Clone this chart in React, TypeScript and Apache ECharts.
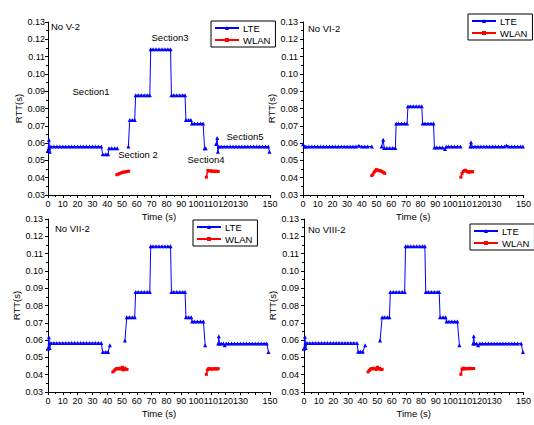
import React, { useEffect, useRef } from "react";
import * as echarts from "echarts";

type Pt = [number, number | null];

const FONT = "'Liberation Sans', Arial, sans-serif";
const LTE_COLOR = "#0000ff";
const WLAN_COLOR = "#ff0000";

const panelTitles = ["No V-2", "No VI-2", "No VII-2", "No VIII-2"];
const seriesNames = ["LTE", "WLAN"];
const xTickMax = 150;
const yTickMin = 0.03;
const yTickMax = 0.13;

// RTT samples, [time (s), RTT (s)]; null breaks the line
const lteV2: Pt[] = [
  [0, 0.056], [0.6, 0.062], [1.2, 0.055], [2, 0.058], [4, 0.058], [6, 0.058], [8, 0.058], [10, 0.058],
  [12, 0.058], [14, 0.058], [16, 0.058], [18, 0.058], [20, 0.058], [22, 0.058], [24, 0.058], [26, 0.058],
  [28, 0.058], [30, 0.058], [32, 0.058], [34, 0.058], [36, 0.058],
  [37, 0.0535], [39, 0.0535], [40.6, 0.0535], [41.2, 0.057], [43, 0.057], [45, 0.057], [46.8, 0.057], [47.5, null],
  [54.3, 0.058], [55.2, 0.0733], [57, 0.0733], [58.6, 0.0733],
  [59.2, 0.0877], [61, 0.0877], [63, 0.0877], [65, 0.0877], [67, 0.0877], [68.8, 0.0877],
  [69.4, 0.1142], [71, 0.1142], [73, 0.1142], [75, 0.1142], [77, 0.1142], [79, 0.1142], [81, 0.1142], [82.8, 0.1142],
  [83.4, 0.0877], [85, 0.0877], [87, 0.0877], [89, 0.0877], [91, 0.0877], [92.6, 0.0877],
  [93.2, 0.0733], [95, 0.0733], [96.6, 0.0733],
  [97.2, 0.0713], [99, 0.0713], [101, 0.0713], [103, 0.0713], [104.8, 0.0713], [105.8, 0.057], [106.6, 0.057], [107.5, null],
  [113.6, 0.0595], [114.3, 0.063], [114.8, 0.055], [115.4, 0.058], [117, 0.058], [119, 0.058], [121, 0.058],
  [123, 0.058], [125, 0.058], [127, 0.058], [129, 0.058], [131, 0.058], [133, 0.058], [135, 0.058], [137, 0.058],
  [139, 0.058], [141, 0.058], [143, 0.058], [145, 0.058], [147, 0.058], [148.8, 0.058], [149.6, 0.055],
];

const wlanV2: Pt[] = [
  [46.5, 0.0417], [47.5, 0.0421], [48.5, 0.0425], [49.5, 0.0428], [50.5, 0.0431], [51.5, 0.0433],
  [52.5, 0.0434], [53.5, 0.0436], [54.5, 0.0438], [56, null],
  [107, 0.0403], [108, 0.0442], [109, 0.0438], [110, 0.0441], [111, 0.0436], [112, 0.0439],
  [113, 0.0435], [114, 0.0438], [115, 0.0436],
];

const lteV6: Pt[] = [
  [0, 0.0594], [1, 0.058], [2, 0.058], [4, 0.058], [6, 0.058], [8, 0.058], [10, 0.058], [12, 0.058],
  [14, 0.058], [16, 0.058], [18, 0.058], [20, 0.058], [22, 0.058], [24, 0.058], [26, 0.058], [28, 0.058],
  [30, 0.058], [32, 0.058], [34, 0.058], [36, 0.058], [38, 0.0585], [40, 0.058], [42, 0.058], [44, 0.058],
  [46.8, 0.058], [48, null],
  [53.5, 0.058], [54.6, 0.062], [55.2, 0.0571], [57, 0.0571], [59, 0.0571], [61, 0.0571], [62.8, 0.0571],
  [63.4, 0.0713], [65, 0.0713], [67, 0.0713], [69, 0.0713], [70.8, 0.0713],
  [71.4, 0.0813], [73, 0.0813], [75, 0.0813], [77, 0.0813], [79, 0.0813], [80.8, 0.0813],
  [81.4, 0.0713], [83, 0.0713], [85, 0.0713], [87, 0.0713], [88.8, 0.0713],
  [89.4, 0.0575], [91, 0.0575], [93, 0.0575], [95, 0.0575], [96.6, 0.0566],
  [97.4, 0.058], [99, 0.058], [101, 0.058], [103, 0.058], [105, 0.058], [107.2, 0.058], [108, null],
  [113.8, 0.058], [114.3, 0.0605], [115, 0.058], [117, 0.058], [119, 0.058], [121, 0.058], [123, 0.058],
  [125, 0.058], [127, 0.058], [129, 0.058], [131, 0.058], [133, 0.058], [135, 0.058], [137, 0.058],
  [138.5, 0.0586], [140, 0.058], [142, 0.058], [144, 0.058], [146, 0.058], [148, 0.058], [149.6, 0.058],
];

const wlanV6: Pt[] = [
  [46.8, 0.0412], [47.6, 0.042], [48.4, 0.0432], [49.2, 0.044], [50, 0.0447], [50.8, 0.0444],
  [51.6, 0.044], [52.4, 0.0442], [53.2, 0.0437], [54, 0.0434], [54.8, 0.043], [55.6, 0.0425], [57, null],
  [107.4, 0.0403], [108.2, 0.0425], [109, 0.0436], [109.8, 0.0441], [110.6, 0.0443], [111.4, 0.0437],
  [112.2, 0.0433], [113, 0.0431], [113.8, 0.0436], [114.6, 0.0434], [115.4, 0.0435],
];

const lteV7: Pt[] = [
  [0, 0.055], [0.6, 0.0616], [1.2, 0.0555], [2, 0.0583], [4, 0.0583], [6, 0.0583], [8, 0.0583], [10, 0.0583],
  [12, 0.0583], [14, 0.0583], [16, 0.0583], [18, 0.0583], [20, 0.0583], [22, 0.0583], [24, 0.0583],
  [26, 0.0583], [28, 0.0583], [30, 0.0583], [32, 0.0583], [34, 0.0583], [36, 0.0583],
  [37, 0.0531], [39, 0.0531], [40.6, 0.0531], [41.8, 0.057], [43, null],
  [52, 0.0597], [53.2, 0.0732], [55, 0.0732], [57, 0.0732], [58.6, 0.0732],
  [59.2, 0.0878], [61, 0.0878], [63, 0.0878], [65, 0.0878], [67, 0.0878], [68.8, 0.0878],
  [69.4, 0.1142], [71, 0.1142], [73, 0.1142], [75, 0.1142], [77, 0.1142], [79, 0.1142], [81, 0.1142], [82.8, 0.1142],
  [83.4, 0.0878], [85, 0.0878], [87, 0.0878], [89, 0.0878], [91, 0.0878], [92.6, 0.0878],
  [93.2, 0.0732], [95, 0.0732], [96.8, 0.0732],
  [97.4, 0.0708], [99, 0.0708], [101, 0.0708], [103, 0.0708], [105, 0.0708], [106.2, 0.057], [107, null],
  [115, 0.058], [115.4, 0.0622], [115.8, 0.058], [117, 0.058], [118.6, 0.058], [119.4, 0.057], [120.4, 0.058],
  [122, 0.058], [124, 0.058], [126, 0.058], [128, 0.058], [130, 0.058], [132, 0.058], [134, 0.058],
  [136, 0.058], [138, 0.058], [140, 0.058], [142, 0.058], [144, 0.058], [146, 0.058], [147.8, 0.058], [149, 0.0531],
];

const wlanV7: Pt[] = [
  [43.8, 0.0416], [44.6, 0.0422], [45.4, 0.043], [46.2, 0.0435], [47, 0.0436], [47.8, 0.0433],
  [48.6, 0.0437], [49.4, 0.0432], [50.2, 0.0443], [51, 0.0428], [51.8, 0.0438], [52.6, 0.0431],
  [53.4, 0.0431], [55, null],
  [107, 0.0402], [107.8, 0.0428], [108.6, 0.0436], [109.4, 0.0434], [110.2, 0.0431], [111, 0.0434],
  [111.8, 0.0433], [112.6, 0.0435], [113.4, 0.0434], [114.2, 0.0433], [115, 0.0435],
];

const lteV8: Pt[] = [
  [0, 0.055], [0.6, 0.062], [1.2, 0.0555], [2, 0.0583], [4, 0.0583], [6, 0.0583], [8, 0.0583], [10, 0.0583],
  [12, 0.0583], [14, 0.0583], [16, 0.0583], [18, 0.0583], [20, 0.0583], [22, 0.0583], [24, 0.0583],
  [26, 0.0583], [28, 0.0583], [30, 0.0583], [32, 0.0583], [34, 0.0583], [36.2, 0.0583],
  [37, 0.0533], [38.6, 0.0533], [40.2, 0.0533], [41.8, 0.057], [43, null],
  [52, 0.0597], [53.4, 0.0732], [55, 0.0732], [57, 0.0732], [58.4, 0.0732],
  [59, 0.0878], [61, 0.0878], [63, 0.0878], [65, 0.0878], [67, 0.0878], [68.8, 0.0878],
  [69.4, 0.1142], [71, 0.1142], [73, 0.1142], [75, 0.1142], [77, 0.1142], [79, 0.1142], [81, 0.1142], [82.6, 0.1142],
  [83.2, 0.0878], [85, 0.0878], [87, 0.0878], [89, 0.0878], [91, 0.0878], [92.4, 0.0878],
  [93, 0.0732], [95, 0.0732], [96.8, 0.0732],
  [97.4, 0.0708], [99, 0.0708], [101, 0.0708], [103, 0.0708], [104.8, 0.0708], [106.2, 0.057], [107, null],
  [115.6, 0.058], [116, 0.0622], [116.4, 0.058], [118, 0.058], [119, 0.057], [120.2, 0.058],
  [122, 0.058], [124, 0.058], [126, 0.058], [128, 0.058], [130, 0.058], [132, 0.058], [134, 0.058],
  [136, 0.058], [138, 0.058], [140, 0.058], [142, 0.058], [144, 0.058], [146, 0.058], [148.4, 0.058], [149.6, 0.0531],
];

const wlanV8: Pt[] = [
  [43.8, 0.0416], [44.6, 0.0424], [45.4, 0.0431], [46.2, 0.0436], [47, 0.0434], [47.8, 0.0437],
  [48.6, 0.0433], [49.4, 0.0431], [50.2, 0.0443], [51, 0.0433], [51.8, 0.0437], [52.6, 0.043],
  [53.4, 0.0431], [55, null],
  [107.2, 0.0402], [108, 0.0432], [108.8, 0.0438], [109.6, 0.0433], [110.4, 0.0436], [111.2, 0.0434],
  [112, 0.0436], [112.8, 0.0434], [113.6, 0.0437], [114.4, 0.0435], [115.2, 0.0436], [116, 0.0436],
];

const lteData = [lteV2, lteV6, lteV7, lteV8];
const wlanData = [wlanV2, wlanV6, wlanV7, wlanV8];

// Section labels of the first panel
const sectionLabels = ["Section1", "Section3", "Section 2", "Section4", "Section5"];

// Panel layout (pixels)
const grids = [
  { left: 48, top: 22, width: 222, height: 173 },
  { left: 303, top: 22, width: 221, height: 173 },
  { left: 48, top: 219, width: 222, height: 173 },
  { left: 304, top: 219, width: 220, height: 173 },
];
const legendPos = [
  { left: 211, top: 21 },
  { left: 468, top: 14 },
  { left: 193, top: 220 },
  { left: 470, top: 224 },
];
const yNameGap = [16, 27, 22, 27];
const yLabelMargin = [3, 5, 5, 5];
const titlePos = [
  { x: 51, y: 26 },
  { x: 308, y: 28 },
  { x: 55, y: 228 },
  { x: 308, y: 229 },
];
const sectionPos = [
  { x: 91, y: 91 },
  { x: 170, y: 37 },
  { x: 138, y: 154 },
  { x: 206, y: 159 },
  { x: 245, y: 136 },
];

export default function App() {
  const ref = useRef<HTMLDivElement>(null);

  useEffect(() => {
    document.body.style.margin = "0";
    if (!ref.current) return;
    const chart = echarts.init(ref.current, undefined, { renderer: "svg" });

    const axisCommon = {
      axisLine: { show: true, lineStyle: { color: "#000", width: 1 } },
      splitLine: { show: false },
      axisTick: { show: true, length: 3, lineStyle: { color: "#000" } },
      minorTick: { show: true, splitNumber: 2, length: 2, lineStyle: { color: "#000" } },
      nameTextStyle: { fontFamily: FONT, fontSize: 9.5, color: "#000" },
    };

    const xAxis = grids.map((_, i) => ({
      ...axisCommon,
      type: "value",
      gridIndex: i,
      min: 0,
      max: xTickMax,
      interval: 10,
      name: "Time (s)",
      nameLocation: "middle",
      nameGap: 16,
      axisLabel: { fontFamily: FONT, fontSize: 9, color: "#000", margin: 4, showMaxLabel: true },
    }));

    const yAxis = grids.map((_, i) => ({
      ...axisCommon,
      type: "value",
      gridIndex: i,
      min: yTickMin,
      max: yTickMax,
      interval: 0.01,
      name: "RTT(s)",
      nameLocation: "middle",
      nameGap: yNameGap[i],
      axisLabel: {
        fontFamily: FONT,
        fontSize: 9,
        color: "#000",
        margin: yLabelMargin[i],
        formatter: (v: number) => v.toFixed(2),
      },
    }));

    const series: any[] = [];
    grids.forEach((_, i) => {
      series.push({
        name: seriesNames[0],
        type: "line",
        xAxisIndex: i,
        yAxisIndex: i,
        data: lteData[i],
        symbol: "triangle",
        symbolSize: 4,
        lineStyle: { color: LTE_COLOR, width: 1 },
        itemStyle: { color: LTE_COLOR },
        connectNulls: false,
        silent: true,
        z: 3,
      });
      series.push({
        name: seriesNames[1],
        type: "line",
        xAxisIndex: i,
        yAxisIndex: i,
        data: wlanData[i],
        symbol: "rect",
        symbolSize: 3,
        lineStyle: { color: WLAN_COLOR, width: 1.5 },
        itemStyle: { color: WLAN_COLOR },
        connectNulls: false,
        silent: true,
        z: 3,
      });
    });

    const legend = legendPos.map((p) => ({
      data: seriesNames,
      orient: "vertical",
      left: p.left,
      top: p.top,
      borderColor: "#000",
      borderWidth: 1,
      backgroundColor: "#fff",
      padding: [2, 5, 2, 3],
      itemGap: 2,
      itemWidth: 24,
      itemHeight: 5,
      selectedMode: false,
      textStyle: { fontFamily: FONT, fontSize: 9.5, color: "#000", padding: [0, 0, 0, -1] },
    }));

    const textEl = (text: string, x: number, y: number, align: string) => ({
      type: "text",
      x,
      y,
      silent: true,
      style: {
        text,
        fill: "#000",
        font: `9.5px ${FONT}`,
        align,
        verticalAlign: "middle",
        textAlign: align,
        textVerticalAlign: "middle",
      },
    });

    const graphic = [
      ...panelTitles.map((t, i) => textEl(t, titlePos[i].x, titlePos[i].y, "left")),
      ...sectionLabels.map((t, i) => textEl(t, sectionPos[i].x, sectionPos[i].y, "center")),
    ];

    chart.setOption({
      animation: false,
      backgroundColor: "#fff",
      textStyle: { fontFamily: FONT },
      grid: grids.map((g) => ({ ...g, containLabel: false })),
      xAxis,
      yAxis,
      legend,
      series,
      graphic,
    } as any);

    return () => chart.dispose();
  }, []);

  return <div ref={ref} style={{ width: 534, height: 425 }} />;
}
